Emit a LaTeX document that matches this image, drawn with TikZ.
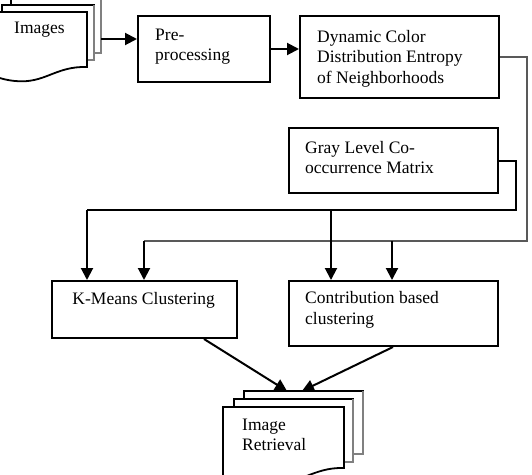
\documentclass[tikz,border=0pt]{standalone}
\usepackage{fontspec}
\setmainfont{Liberation Serif}
\usetikzlibrary{arrows.meta,calc}
\newcommand\txtlines[1]{\begin{tabular}[t]{@{}l@{}}#1\end{tabular}}
\begin{document}
\begin{tikzpicture}[x=1pt,y=-1pt,
  box/.style={draw=black, line width=2pt, fill=white, inner sep=0pt, anchor=north west},
  txt/.style={anchor=base west, inner sep=0pt, font=\fontsize{17.5}{20.5}\selectfont},
  conn/.style={line width=2pt, draw=black},
  gconn/.style={line width=2pt, draw=black!65},
  tip/.style={-{Triangle[length=12pt,width=12pt]}},
  sheet/.style={fill=white, draw=black, line width=1.5pt},
  shade/.style={draw=black!50, line width=2pt},
]
\path[use as bounding box, clip] (0,0) rectangle (532,474);
\fill[white] (0,0) rectangle (532,474);

% Images document stack
\filldraw[sheet] (11,-5) rectangle (101,53);
\draw[shade] (101,-5) -- (101,53) -- (94,53);
\filldraw[sheet] (2,5) rectangle (94,60);
\draw[shade] (94,5) -- (94,60) -- (87,60);
\filldraw[sheet, line width=1.8pt] (-7,12) -- (87,12) -- (87,67)
  .. controls (55,66) and (45,84) .. (15,81)
  .. controls (5,80) and (0,78) .. (-7,76) -- cycle;
\node[txt] (timages) at (14,33) {Images};
\coordinate (imgout) at (101,39);

% Boxes
\node[box, minimum width=132pt, minimum height=66pt] (pre) at (137,15) {};
\node[box, minimum width=199pt, minimum height=82pt] (dcde) at (299,15) {};
\node[box, minimum width=209pt, minimum height=65pt] (glcm) at (288,127) {};
\node[box, minimum width=185pt, minimum height=57pt] (km) at (51,280) {};
\node[box, minimum width=209pt, minimum height=65pt] (cb) at (288,280) {};

\node[txt] (tpre) at (155,40) {\txtlines{Pre-\\processing}};
\node[txt] (tdcde) at (317,42) {\txtlines{Dynamic Color\\Distribution Entropy\\of Neighborhoods}};
\node[txt] (tglcm) at (305,153) {\txtlines{Gray Level Co-\\occurrence Matrix}};
\node[txt, anchor=base] (tkm) at (143.7,304.5) {K-Means Clustering};
\node[txt] (tcb) at (305,303.5) {\txtlines{Contribution based\\clustering}};

% Image Retrieval document stack
\filldraw[sheet] (244,391) rectangle (363,454);
\draw[shade] (363,391) -- (363,454) -- (353,454);
\filldraw[sheet] (234,399) rectangle (353,462);
\draw[shade] (353,399) -- (353,462) -- (344,462);
\filldraw[sheet, line width=1.8pt] (223,407) -- (344,407) -- (344,468)
  .. controls (312,467) and (300,486) .. (265,484)
  .. controls (250,483) and (235,480) .. (223,478) -- cycle;
\node[txt] (tret) at (242,430) {\txtlines{Image\\Retrieval}};
\coordinate (rin1) at (287,391);
\coordinate (rin2) at (302,391);

% Connectors
\draw[conn,tip] (imgout) -- (imgout -| pre.west);
\draw[conn,tip] (pre.east) -- (pre.east -| dcde.west);

\coordinate (gR) at (527,241);
\coordinate (gL) at (144,241);
\coordinate (gB) at (392,241);
\draw[gconn] (dcde.east) -| (gR) -- (gL);
\draw[conn,tip] (gL) -- (gL |- km.north);
\draw[conn,tip] (gB) -- (gB |- cb.north);

\coordinate (bR) at (516,210);
\coordinate (bL) at (87,210);
\coordinate (bB) at (331,210);
\draw[conn] (glcm.east) -| (bR) -- (bL);
\draw[conn,tip] (bL) -- (bL |- km.north);
\draw[conn,tip] (bB) -- (bB |- cb.north);

\coordinate (kmout) at ($(km.south west)+(153,0)$);
\coordinate (cbout) at ($(cb.south west)+(105,0)$);
\draw[conn,tip] (kmout) -- (rin1);
\draw[conn,tip] (cbout) -- (rin2);
\end{tikzpicture}
\end{document}
